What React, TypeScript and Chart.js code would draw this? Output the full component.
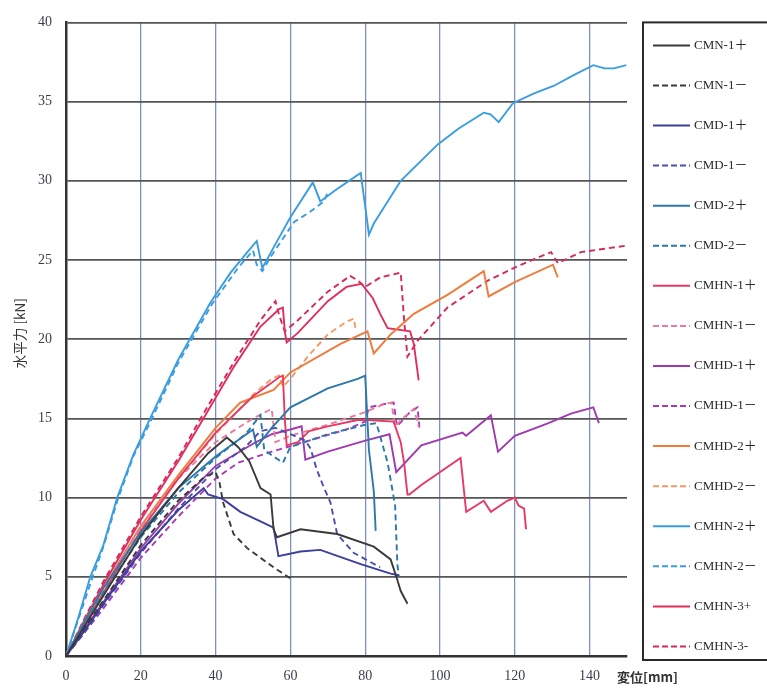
import React, { useEffect, useRef } from 'react';
import { Chart, registerables } from 'chart.js';

Chart.register(...registerables);

type P = [number, number];

const X_MIN = 0;
const X_MAX = 150;
const X_STEP = 20;
const Y_MIN = 0;
const Y_MAX = 40;
const Y_STEP = 5;
const X_TITLE = '変位[mm]';
const Y_TITLE = '水平力 [kN]';

const CMN1_POS: P[] = [[0,0],[5,1.9],[10,3.8],[20,7.6],[30,10.6],[38,12.8],[43,13.8],[46,13.2],[49,12.3],[52,10.6],[54.7,10.2],[55.5,8],[56.4,7.5],[62.7,8],[72.5,7.7],[82.3,6.9],[86.8,6.1],[88.6,4.8],[89.5,4.1],[91.3,3.3]];
const CMN1_NEG: P[] = [[0,0],[5,1.8],[10,3.5],[20,7],[30,9.8],[37,11.3],[40,11.6],[41,11],[42,9.7],[44.8,7.7],[48.5,6.8],[52,6.2],[55.5,5.6],[60,4.9]];
const CMD1_POS: P[] = [[0,0],[5,1.6],[10,3.3],[20,6.6],[30,9.2],[36.8,10.6],[38,10.2],[42,9.9],[46.6,9.1],[52,8.5],[55.5,8.1],[56.8,6.3],[62.7,6.6],[68,6.7],[78.8,5.8],[86.8,5.2],[89,5.1]];
const CMD1_NEG: P[] = [[0,0],[5,1.5],[10,3.2],[20,6.5],[30,9.3],[40,11.8],[48,13.2],[52,14.2],[56,14.4],[60,14],[64,13.6],[65.4,13.1],[67,11.8],[69,10.6],[70.7,9.7],[72.5,7.7],[77,6.5],[84,5.6]];
const CMD2_POS: P[] = [[0,0],[5,2.2],[10,4.3],[20,7.8],[30,10.6],[40,12.6],[47,13.8],[50,14.3],[51,13.2],[55,14.4],[60,15.7],[70,16.9],[78,17.5],[80,17.7],[81,13],[82.3,10.4],[82.8,7.9]];
const CMD2_NEG: P[] = [[0,0],[5,2],[10,4],[20,7.5],[30,10.3],[40,12.5],[48,14],[52,15.2],[53,13],[58,12.2],[60,13.2],[70,14],[80,14.6],[83,14.7],[86,12.2],[88,9.5],[88.6,5.8],[89,5]];
const CMHN1_POS: P[] = [[0,0],[5,2],[10,4],[20,7.9],[30,11.2],[40,14.1],[50,16.4],[57,17.6],[58,17.7],[58.5,15],[59,13.3],[62,13.5],[65,14.2],[70,14.5],[78,14.9],[80.6,14.9],[87.6,14.8],[89.5,13.5],[90.4,12.2],[91.3,10.2],[91.8,10.2],[95,10.8],[105.5,12.5],[107,9.1],[111.7,9.8],[113.6,9.1],[118,9.8],[120,10],[121,9.5],[122.5,9.3],[123,8]];
const CMHN1_NEG: P[] = [[0,0],[5,2.2],[10,4.3],[20,8.2],[30,11.2],[40,13.5],[50,15],[55,15.6],[56,13.5],[60,13.9],[70,14.6],[80,15.4],[85,15.9],[87,16],[88,14.5],[90,15],[93,15.6],[94.3,14.5]];
const CMHD1_POS: P[] = [[0,0],[5,1.7],[10,3.4],[20,6.8],[30,9.6],[40,12],[50,13.4],[55,14],[60,14.3],[63,14.5],[64,12.4],[70,12.9],[80,13.6],[86.5,14],[88.3,11.6],[95,13.3],[106,14.1],[107,13.9],[113.6,15.2],[115.5,12.9],[120,13.9],[129,14.7],[135,15.3],[141,15.7],[142.5,14.7]];
const CMHD1_NEG: P[] = [[0,0],[5,1.5],[10,3],[20,6.2],[30,8.8],[40,11.2],[46,12.2],[55,12.9],[65,13.6],[75,14.3],[80,14.8],[81,15.7],[85,15.9],[87.6,16],[88.5,14.5],[92,15.4],[94,15.7],[94.5,14.4]];
const CMHD2_POS: P[] = [[0,0],[5,2.2],[10,4.3],[20,8.2],[30,11.4],[40,14.4],[46.6,16],[55.5,16.8],[60,17.9],[73.4,19.7],[80.6,20.5],[82.3,19.1],[86.8,20.3],[93,21.6],[102,22.8],[111.7,24.3],[113,22.7],[120,23.6],[130.2,24.7],[131.5,23.9]];
const CMHD2_NEG: P[] = [[0,0],[5,2.1],[10,4.2],[20,8],[30,11.2],[40,14],[50,16.5],[55,17.5],[57,17.7],[58,17],[60,17.5],[65,19],[70,20.3],[75,21.1],[77,21.3],[77.5,20.5]];
const CMHN2_POS: P[] = [[0,0],[3,2.2],[6.5,5],[10,7],[13.7,10],[18,12.7],[22.5,15],[30,18.7],[38.6,22.3],[44,24.2],[48.5,25.5],[51,26.2],[52.5,24.5],[56,26],[60,27.7],[66,29.9],[68,28.7],[72,29.4],[78.8,30.5],[81,26.6],[82.3,27.3],[89.5,30],[99.4,32.3],[105,33.3],[111.7,34.3],[113.5,34.2],[115.7,33.7],[119.5,34.9],[125,35.5],[130.5,36],[136,36.7],[141,37.3],[144,37.1],[146.5,37.1],[149.8,37.3]];
const CMHN2_NEG: P[] = [[0,0],[3,2.1],[7,4.9],[10,6.9],[14,10],[18,12.6],[23,15],[30,18.5],[39,22.2],[46,24.5],[50,25.6],[51,24.7],[52.5,24.3],[55,25.3],[61,27.4],[65,28],[69,28.7],[70,29.3]];
const CMHN3_POS: P[] = [[0,0],[5,2.3],[10,4.5],[20,8.6],[30,12.3],[36,14.7],[45,18.3],[52,20.8],[57,21.9],[58,22],[58.5,20.5],[59,19.8],[62,20.4],[70,22.4],[75,23.3],[79,23.5],[82,22.6],[84,21.6],[86,20.7],[92,20.5],[93,19.7],[94.3,17.4]];
const CMHN3_NEG: P[] = [[0,0],[5,2.4],[10,4.7],[20,8.8],[30,12.5],[36,15],[45,18.6],[52,21.2],[56,22.4],[57,21.5],[58.5,20.5],[62,21.2],[70,23],[76,24],[78,23.7],[80,23.3],[84,23.9],[89.5,24.2],[90.4,21.2],[91.3,18.9],[94,19.9],[102,22],[112.8,23.7],[121.6,24.7],[129.7,25.5],[131.5,24.8],[137.7,25.5],[149.7,25.9]];

const SERIES_LABELS = ['CMN-1＋','CMN-1－','CMD-1＋','CMD-1－','CMD-2＋','CMD-2－','CMHN-1＋','CMHN-1－','CMHD-1＋','CMHD-1－','CMHD-2＋','CMHD-2－','CMHN-2＋','CMHN-2－','CMHN-3+','CMHN-3-'];
const SERIES_DATA = [CMN1_POS, CMN1_NEG, CMD1_POS, CMD1_NEG, CMD2_POS, CMD2_NEG, CMHN1_POS, CMHN1_NEG, CMHD1_POS, CMHD1_NEG, CMHD2_POS, CMHD2_NEG, CMHN2_POS, CMHN2_NEG, CMHN3_POS, CMHN3_NEG];
const SERIES_COLORS = ['#3a3a3a','#3a3a3a','#3c3f9e','#4a4fae','#2c78aa','#2c78aa','#e63a64','#ec7a9c','#a03aae','#a83ab4','#f07a3a','#f39a64','#3a9de0','#3a9de0','#e22e5a','#d8285a'];
const SERIES_DASHED = [false,true,false,true,false,true,false,true,false,true,false,true,false,true,false,true];

const overlay = {
  id: 'overlay',
  afterDraw(chart: any) {
    const ctx: CanvasRenderingContext2D = chart.ctx;
    const area = chart.chartArea;
    ctx.save();
    const bx = area.right + 16;
    const by = area.top;
    const bh = area.bottom + 4 - by;
    ctx.strokeStyle = '#2a2a2a';
    ctx.lineWidth = 2;
    ctx.setLineDash([]);
    ctx.strokeRect(bx, by, chart.width - bx + 10, bh);
    chart.data.datasets.forEach((ds: any, i: number) => {
      const y = by + 23 + i * 40.07;
      ctx.strokeStyle = ds.borderColor;
      ctx.lineWidth = 2;
      ctx.setLineDash(ds.borderDash && ds.borderDash.length ? [6, 3] : []);
      ctx.beginPath();
      ctx.moveTo(bx + 10, y);
      ctx.lineTo(bx + 47, y);
      ctx.stroke();
      ctx.setLineDash([]);
      ctx.fillStyle = '#2a2a2a';
      ctx.font = '13px "Liberation Serif", "Noto Sans CJK JP", serif';
      ctx.textAlign = 'left';
      ctx.textBaseline = 'middle';
      ctx.fillText(ds.label, bx + 51, y);
    });
    ctx.fillStyle = '#333';
    ctx.font = 'bold 13px "Noto Sans CJK JP", sans-serif';
    ctx.textAlign = 'left';
    ctx.textBaseline = 'middle';
    ctx.fillText(X_TITLE, area.right - 10, area.bottom + 21);
    ctx.translate(20, (area.top + area.bottom) / 2 - 6);
    ctx.rotate(-Math.PI / 2);
    ctx.font = '13.5px "Noto Sans CJK JP", sans-serif';
    ctx.textAlign = 'center';
    ctx.fillText(Y_TITLE, 0, 0);
    ctx.restore();
  },
};

export default function App() {
  const ref = useRef<HTMLCanvasElement | null>(null);
  useEffect(() => {
    if (!ref.current) return;
    const datasets = SERIES_LABELS.map((label, i) => ({
      label,
      data: SERIES_DATA[i].map(([x, y]) => ({ x, y })),
      borderColor: SERIES_COLORS[i],
      backgroundColor: SERIES_COLORS[i],
      borderWidth: 1.9,
      borderDash: SERIES_DASHED[i] ? [6, 4] : [],
      pointRadius: 0,
      tension: 0,
      fill: false,
    }));
    const chart = new Chart(ref.current, {
      type: 'line',
      data: { datasets },
      options: {
        animation: false,
        responsive: true,
        maintainAspectRatio: false,
        layout: { padding: { left: 0, top: 15, right: 140, bottom: 0 } },
        plugins: { legend: { display: false }, tooltip: { enabled: false } },
        scales: {
          x: {
            type: 'linear',
            min: X_MIN,
            max: X_MAX,
            ticks: {
              stepSize: X_STEP,
              padding: 12,
              color: '#3a3f4a',
              font: { family: '"Liberation Serif", serif', size: 14 },
              callback: (v: any) => (Number(v) >= X_MAX ? '' : String(v)),
            },
            grid: {
              drawTicks: false,
              lineWidth: 1.3,
              color: (c: any) => (c.tick && c.tick.value >= X_MAX ? 'rgba(0,0,0,0)' : '#7f8fc0'),
            },
            border: { display: true, color: '#333', width: 2.5 },
            afterFit: (s: any) => { s.height = 37; },
          },
          y: {
            type: 'linear',
            min: Y_MIN,
            max: Y_MAX,
            ticks: {
              stepSize: Y_STEP,
              padding: 14,
              color: '#3a3f4a',
              font: { family: '"Liberation Serif", serif', size: 14 },
            },
            grid: { drawTicks: false, lineWidth: 1.8, color: '#555' },
            border: { display: true, color: '#333', width: 2.5 },
            afterFit: (s: any) => { s.width = 66; },
          },
        },
      },
      plugins: [overlay],
    });
    return () => chart.destroy();
  }, []);
  return (
    <div style={{ position: 'fixed', left: 0, top: 0, width: 767, height: 693, background: '#fff' }}>
      <canvas ref={ref} />
    </div>
  );
}
